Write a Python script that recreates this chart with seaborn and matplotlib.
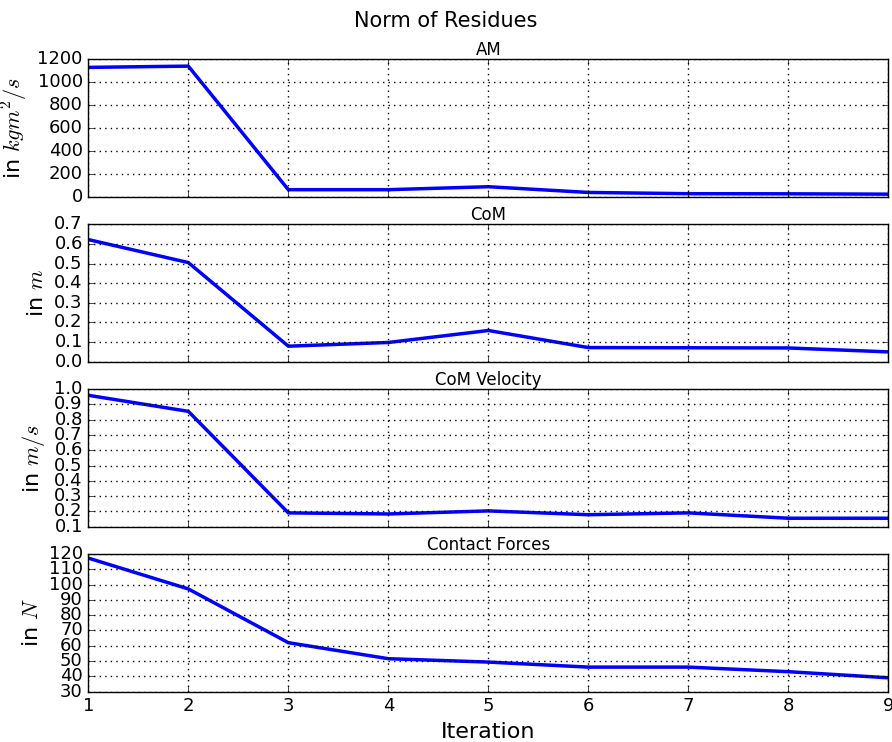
import numpy as np
import matplotlib
matplotlib.use("Agg")
import matplotlib.pyplot as plt
import pandas as pd
import seaborn as sns

plt.style.use('classic')
plt.rcParams['font.family'] = ['DejaVu Sans']
plt.rcParams['mathtext.fontset'] = 'cm'

iterations = [1, 2, 3, 4, 5, 6, 7, 8, 9]
am = [1130, 1141, 62, 62, 88, 38, 27, 26, 23]
com = [0.622, 0.505, 0.079, 0.098, 0.159, 0.072, 0.071, 0.070, 0.050]
com_vel = [0.96, 0.855, 0.19, 0.183, 0.203, 0.178, 0.190, 0.155, 0.155]
contact = [117.4, 97.2, 62.0, 51.5, 49.3, 46.0, 46.0, 43.0, 39.0]

titles = ['AM', 'CoM', 'CoM Velocity', 'Contact Forces']
ylabels = ['in $kgm^2/s$', 'in $m$', 'in $m/s$', 'in $N$']
ylims = [(0, 1200), (0, 0.7), (0.1, 1.0), (30, 120)]
ysteps = [200, 0.1, 0.1, 10]

df = pd.DataFrame({'Iteration': iterations, 'AM': am, 'CoM': com,
                   'CoM Velocity': com_vel, 'Contact Forces': contact})

plt.rcParams['savefig.facecolor'] = 'white'
plt.rcParams['figure.facecolor'] = 'white'

fig, axes = plt.subplots(4, 1, figsize=(8.92, 7.42), dpi=100, sharex=True)
fig.subplots_adjust(left=0.099, right=0.996, top=0.920, bottom=0.068, hspace=0.2)

for ax, col, lab, lim, step in zip(axes, titles, ylabels, ylims, ysteps):
    sns.lineplot(data=df, x='Iteration', y=col, ax=ax, color='blue', linewidth=2.5)
    ax.set_title(col, fontsize=12, pad=3)
    ax.set_ylabel(lab, fontsize=16)
    ax.set_ylim(*lim)
    ax.set_yticks(np.arange(lim[0], lim[1] + step / 2, step))
    ax.set_xlim(1, 9)
    ax.set_xticks(iterations)
    ax.grid(True, color='black', linestyle=':', linewidth=1)
    ax.tick_params(labelsize=13)
    ax.set_xlabel('')

axes[-1].set_xlabel('Iteration', fontsize=16)
fig.suptitle('Norm of Residues', fontsize=15, y=0.985)

plt.savefig('out.png', dpi=100)
